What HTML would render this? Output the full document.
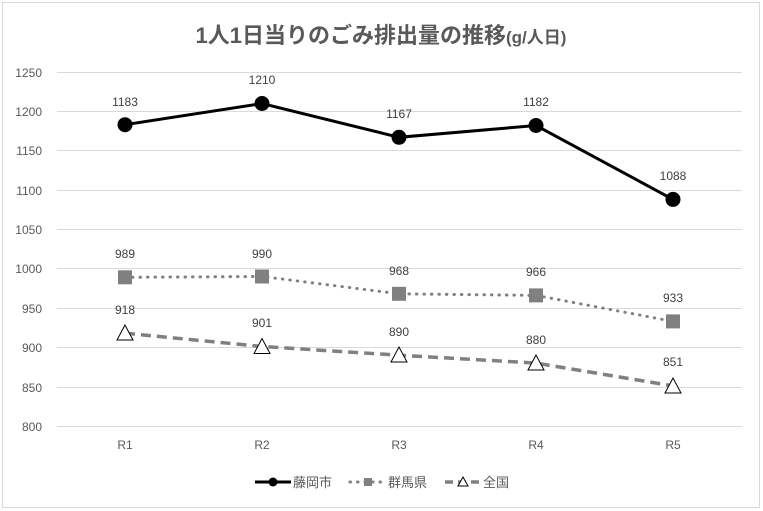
<!DOCTYPE html><html><head><meta charset="utf-8"><style>body{margin:0;background:#fff}svg{display:block}</style></head><body>
<svg width="763" height="511" xmlns="http://www.w3.org/2000/svg" font-family="Liberation Sans, Noto Sans CJK JP, sans-serif">
<rect x="0" y="0" width="763" height="511" fill="#fff"/>
<rect x="2.5" y="2.5" width="757" height="505" fill="none" stroke="#d9d9d9"/>
<text x="381" y="43" text-anchor="middle" font-size="22" font-weight="bold" fill="#595959">1人1日当りのごみ排出量の推移<tspan font-size="17">(g/人日)</tspan></text>
<g stroke="#d9d9d9" stroke-width="1">
<line x1="57" x2="742" y1="72.5" y2="72.5"/><line x1="57" x2="742" y1="111.5" y2="111.5"/><line x1="57" x2="742" y1="150.5" y2="150.5"/><line x1="57" x2="742" y1="190.5" y2="190.5"/><line x1="57" x2="742" y1="229.5" y2="229.5"/><line x1="57" x2="742" y1="268.5" y2="268.5"/><line x1="57" x2="742" y1="308.5" y2="308.5"/><line x1="57" x2="742" y1="347.5" y2="347.5"/><line x1="57" x2="742" y1="387.5" y2="387.5"/><line x1="57" x2="742" y1="426.5" y2="426.5"/>
</g>
<g font-size="12" fill="#595959" text-anchor="end">
<text x="42" y="77">1250</text><text x="42" y="116">1200</text><text x="42" y="155">1150</text><text x="42" y="195">1100</text><text x="42" y="234">1050</text><text x="42" y="273">1000</text><text x="42" y="313">950</text><text x="42" y="352">900</text><text x="42" y="392">850</text><text x="42" y="431">800</text>
</g>
<g font-size="12" fill="#595959" text-anchor="middle">
<text x="125" y="449">R1</text><text x="262" y="449">R2</text><text x="399" y="449">R3</text><text x="536" y="449">R4</text><text x="673" y="449">R5</text>
</g>
<polyline points="125,124.7 262,103.5 399,137.3 536,125.5 673,199.4" fill="none" stroke="#000" stroke-width="3"/>
<g fill="#000"><circle cx="125" cy="124.7" r="7.5"/><circle cx="262" cy="103.5" r="7.5"/><circle cx="399" cy="137.3" r="7.5"/><circle cx="536" cy="125.5" r="7.5"/><circle cx="673" cy="199.4" r="7.5"/></g>
<polyline points="125,277.3 262,276.5 399,293.8 536,295.4 673,321.4" fill="none" stroke="#808080" stroke-width="3" stroke-dasharray="0.5,7" stroke-linecap="round"/>
<g fill="#808080"><rect x="118" y="270.3" width="14" height="14"/><rect x="255" y="269.5" width="14" height="14"/><rect x="392" y="286.8" width="14" height="14"/><rect x="529" y="288.4" width="14" height="14"/><rect x="666" y="314.4" width="14" height="14"/></g>
<polyline points="125,333.2 262,346.5 399,355.2 536,363.1 673,385.9" fill="none" stroke="#808080" stroke-width="3.5" stroke-dasharray="10,6"/>
<g fill="#fff" stroke="#000" stroke-width="1"><polygon points="125,325 117,340 133,340"/><polygon points="262,338.5 254,353.5 270,353.5"/><polygon points="399,347 391,362 407,362"/><polygon points="536,355 528,370 544,370"/><polygon points="673,378 665,393 681,393"/></g>
<g font-size="12" fill="#404040" text-anchor="middle">
<text x="125" y="106">1183</text><text x="262" y="84">1210</text><text x="399" y="118">1167</text><text x="536" y="106">1182</text><text x="673" y="180">1088</text>
<text x="125" y="258">989</text><text x="262" y="258">990</text><text x="399" y="275">968</text><text x="536" y="276">966</text><text x="673" y="302">933</text>
<text x="125" y="314">918</text><text x="262" y="327">901</text><text x="399" y="336">890</text><text x="536" y="344">880</text><text x="673" y="366">851</text>
</g>
<line x1="255" x2="291" y1="482" y2="482" stroke="#000" stroke-width="3"/><circle cx="273" cy="482" r="4.5" fill="#000"/>
<text x="293" y="487" font-size="13" fill="#595959">藤岡市</text>
<line x1="350" x2="386" y1="482" y2="482" stroke="#808080" stroke-width="3" stroke-dasharray="0.5,7" stroke-linecap="round"/><rect x="364" y="478" width="8" height="8" fill="#808080"/>
<text x="388" y="487" font-size="13" fill="#595959">群馬県</text>
<line x1="445" x2="481" y1="482" y2="482" stroke="#808080" stroke-width="3.5" stroke-dasharray="8,5"/><polygon points="463,477 458,486 468,486" fill="#fff" stroke="#000"/>
<text x="483" y="487" font-size="13" fill="#595959">全国</text>
</svg></body></html>
